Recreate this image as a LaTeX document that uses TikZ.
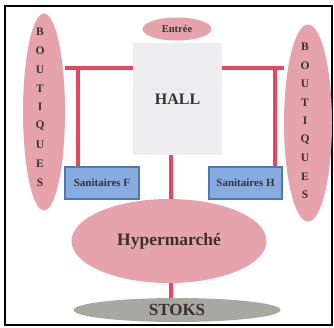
\documentclass[tikz,border=0pt]{standalone}
\usepackage{fontspec}
\setmainfont{Liberation Serif}
\usetikzlibrary{shapes.geometric}
\definecolor{pinkf}{HTML}{E6A3AC}
\definecolor{redl}{HTML}{E5485E}
\definecolor{bluef}{HTML}{86ACE0}
\definecolor{blued}{HTML}{4E79B0}
\definecolor{grayf}{HTML}{A7A9A1}
\definecolor{hallf}{HTML}{EEEEF0}
\definecolor{txt}{HTML}{3A3030}
\begin{document}
\begin{tikzpicture}[x=1pt,y=-1pt,
  oval/.style={ellipse,fill=pinkf,inner sep=0pt,text=txt,font=\bfseries},
  sanbox/.style={rectangle,fill=bluef,draw=blued,line width=1.2pt,inner sep=0pt,text=txt,font=\bfseries\fontsize{11}{12}\selectfont},
  letter/.style={text=txt,font=\bfseries\fontsize{11.5}{12}\selectfont,inner sep=0pt},
  link/.style={draw=redl,line width=3.5pt}]
\useasboundingbox (0,0) rectangle (334,327);
\draw[line width=1.2pt] (5,6) rectangle (332,325);
% nodes
\node[oval,minimum width=42pt,minimum height=197pt] (bl) at (44,112) {};
\node[oval,minimum width=48pt,minimum height=197pt] (br) at (308,123) {};
\node[oval,minimum width=69pt,minimum height=23pt,font=\bfseries\fontsize{10.5}{11}\selectfont] (entree) at (177,29) {Entrée};
\node[rectangle,fill=hallf,minimum width=89pt,minimum height=112pt,inner sep=0pt,text=txt,font=\bfseries\fontsize{16}{18}\selectfont] (hall) at (177.5,99) {HALL};
\node[sanbox,minimum width=74pt,minimum height=32pt] (sf) at (102,183) {Sanitaires F};
\node[sanbox,minimum width=73pt,minimum height=32pt] (sh) at (245.5,183) {Sanitaires H};
\node[oval,minimum width=195pt,minimum height=84pt,font=\bfseries\fontsize{17.5}{20}\selectfont] (hyper) at (169,241) {Hypermarché};
\node[ellipse,fill=grayf,minimum width=207pt,minimum height=24pt,inner sep=0pt,text=txt,font=\bfseries\fontsize{17}{18}\selectfont] (stoks) at (177,310) {STOKS};
% boutiques letters
\foreach \l [count=\i from 0] in {B,O,U,T,I,Q,U,E,S} {
  \node[letter] (lb\i) at (40,32+18.8*\i) {\l};
  \node[letter] (rb\i) at (305,47+18.5*\i) {\l};
}
% connectors
\coordinate (jl) at (78,68);
\coordinate (jr) at (275,68);
\draw[link] (bl.east |- jl) -- (hall.west |- jl);
\draw[link] (jl) -- (sf.north -| jl);
\draw[link] (hall.east |- jr) -- (br.west |- jr);
\draw[link] (jr) -- (sh.north -| jr);
\draw[link] (hall.south -| 171,0) -- (hyper.north -| 171,0);
\draw[link] (hyper.south -| 171,0) -- (stoks.north -| 171,0);
\end{tikzpicture}
\end{document}
